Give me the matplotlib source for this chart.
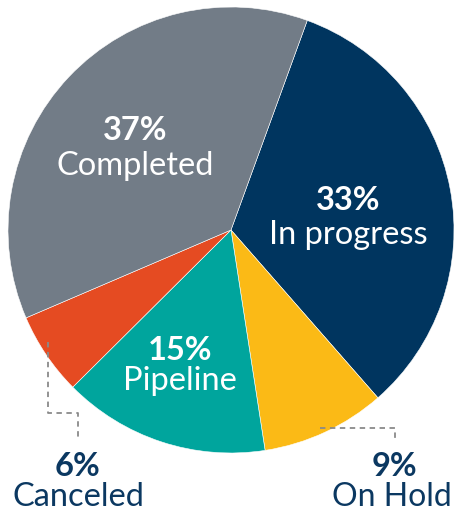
import matplotlib
matplotlib.use("Agg")
import matplotlib.pyplot as plt

categories = ["In progress", "On Hold", "Pipeline", "Canceled", "Completed"]
values = [33, 9, 15, 6, 37]
colors = ["#00355f", "#fbba16", "#00a59d", "#e54b22", "#727c87"]

W, H = 454, 514
fig = plt.figure(figsize=(W / 100, H / 100), dpi=100)
ax = fig.add_axes([0, 0, 1, 1])

cx, cy, r = 231, H - 230, 223
ax.pie(values, colors=colors, startangle=70, counterclock=False,
       center=(cx, cy), radius=r, frame=True,
       wedgeprops=dict(edgecolor="white", linewidth=0.4))
ax.set_aspect("auto")
ax.set_xlim(0, W)
ax.set_ylim(0, H)
ax.axis("off")

FAM = ["Lato", "DejaVu Sans"]
navy = "#0b3861"
inside = {
    "Completed": ((135, 131), (135, 166)),
    "In progress": ((348, 200), (348, 235)),
    "Pipeline": ((180, 350), (180, 381)),
}
outside = {
    "Canceled": ((78, 466), (78, 497)),
    "On Hold": ((394, 466), (392, 497)),
}
fs = 23.5
for name, v in zip(categories, values):
    if name in inside:
        (px, py), (nx, ny) = inside[name]
        c = "white"
    else:
        (px, py), (nx, ny) = outside[name]
        c = navy
    ax.text(px, H - py, f"{v}%", ha="center", va="center", fontsize=fs,
            fontweight="bold", color=c, family=FAM)
    ax.text(nx, H - ny, name, ha="center", va="center",
            fontsize=fs if name != "On Hold" else 23,
            color=c, family=FAM)

dash = dict(color="#8a8a8a", linewidth=1.3, linestyle=(0, (3, 2.5)))
ax.plot([48, 48, 78, 78], [H - 342, H - 413, H - 413, H - 440], **dash)
ax.plot([320, 395, 395], [H - 428, H - 428, H - 440], **dash)

fig.savefig("out.png", dpi=100)
